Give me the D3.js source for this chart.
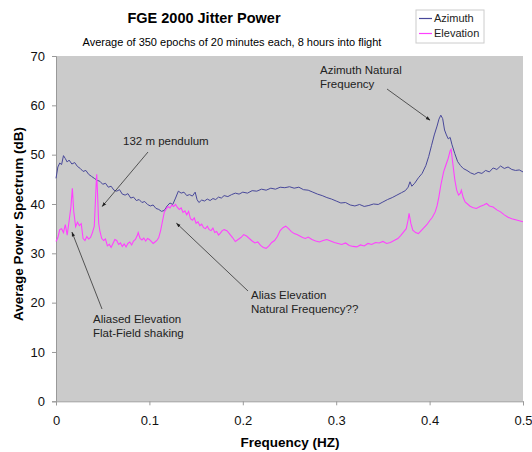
<!DOCTYPE html>
<html>
<head>
<meta charset="utf-8">
<script src="https://cdn.jsdelivr.net/npm/d3@7"></script>
<style>
  body { margin: 0; background: #fff; }
  svg text { font-family: "Liberation Sans", Arial, sans-serif; }
</style>
</head>
<body>
<div id="chart"></div>
<script>
// Azimuth spectrum (frequency in Hz, power in dB)
const azFreq = [0.000,0.002,0.004,0.006,0.008,0.010,0.012,0.014,0.017,0.020,0.023,0.026,0.029,0.032,0.035,0.038,0.041,0.044,0.047,0.050,
  0.053,0.056,0.059,0.062,0.065,0.068,0.071,0.074,0.077,0.080,0.083,0.086,0.089,0.092,0.095,0.098,0.101,0.104,0.107,0.110,
  0.113,0.116,0.119,0.122,0.125,0.128,0.131,0.134,0.137,0.140,0.143,0.146,0.149,0.151,0.153,0.156,0.159,0.162,0.165,0.168,
  0.171,0.174,0.177,0.180,0.184,0.188,0.192,0.196,0.200,0.205,0.210,0.215,0.220,0.225,0.230,0.235,0.240,0.245,0.250,0.255,
  0.260,0.265,0.270,0.275,0.280,0.285,0.290,0.295,0.300,0.305,0.310,0.315,0.320,0.325,0.330,0.335,0.340,0.345,0.350,0.355,
  0.360,0.365,0.370,0.374,0.377,0.379,0.381,0.384,0.388,0.392,0.396,0.399,0.402,0.405,0.408,0.410,0.412,0.414,0.416,0.418,
  0.420,0.422,0.424,0.427,0.430,0.433,0.436,0.440,0.444,0.448,0.452,0.456,0.460,0.464,0.468,0.472,0.476,0.480,0.484,0.488,
  0.492,0.496,0.500];
const azPower = [45.2,47.5,48.3,48.0,49.8,49.2,48.5,48.9,48.1,48.4,47.6,47.2,46.6,46.8,46.0,45.6,45.2,44.8,44.6,44.0,
  44.2,43.4,43.6,42.8,42.6,42.9,42.0,41.8,42.1,41.2,41.4,40.7,40.9,40.3,40.5,39.9,39.6,39.8,39.1,38.9,
  38.5,38.7,39.6,40.2,39.9,41.2,42.6,42.2,42.4,41.7,41.9,41.6,42.4,40.9,40.3,40.8,40.6,41.0,40.7,41.1,
  40.9,41.4,41.2,41.7,41.5,41.9,42.2,42.0,42.4,42.2,42.7,42.6,43.0,42.8,43.2,43.0,43.4,43.3,43.5,43.2,
  43.4,42.9,42.8,42.4,42.0,41.7,41.3,41.0,40.6,40.2,40.3,39.8,39.6,39.9,39.5,39.7,40.0,39.9,40.4,40.9,
  41.3,41.8,42.3,42.7,43.4,44.5,43.6,44.2,45.3,46.2,47.8,49.6,51.8,54.0,55.8,57.2,58.0,57.3,55.0,54.0,
  53.2,53.5,52.0,50.2,48.6,47.8,47.2,46.8,46.3,46.0,46.4,46.2,46.8,46.5,47.3,47.0,47.7,47.2,47.5,47.0,
  46.8,46.9,46.5];

// Elevation spectrum
const elFreq = [0.000,0.002,0.004,0.006,0.008,0.010,0.012,0.014,0.016,0.0175,0.019,0.021,0.023,0.025,0.027,0.029,0.031,0.033,0.035,0.037,
  0.039,0.041,0.043,0.0436,0.0445,0.0457,0.047,0.049,0.051,0.053,0.055,0.057,0.059,0.061,0.063,0.065,0.067,0.069,0.071,0.073,
  0.075,0.077,0.079,0.081,0.083,0.085,0.087,0.088,0.090,0.092,0.094,0.096,0.098,0.100,0.102,0.104,0.106,0.108,0.110,0.112,
  0.114,0.116,0.118,0.120,0.122,0.124,0.126,0.128,0.130,0.132,0.134,0.136,0.138,0.140,0.142,0.144,0.146,0.148,0.150,0.152,
  0.154,0.156,0.158,0.160,0.162,0.164,0.166,0.168,0.170,0.172,0.174,0.176,0.178,0.180,0.183,0.186,0.189,0.192,0.195,0.198,
  0.201,0.204,0.207,0.210,0.213,0.216,0.219,0.222,0.225,0.228,0.231,0.234,0.237,0.240,0.243,0.246,0.249,0.252,0.255,0.258,
  0.261,0.264,0.267,0.270,0.274,0.278,0.282,0.286,0.290,0.294,0.298,0.302,0.306,0.310,0.314,0.318,0.322,0.326,0.330,0.334,
  0.338,0.342,0.346,0.350,0.354,0.358,0.362,0.366,0.369,0.372,0.375,0.377,0.378,0.380,0.382,0.385,0.388,0.391,0.394,0.397,
  0.400,0.403,0.406,0.408,0.410,0.412,0.415,0.418,0.420,0.422,0.423,0.425,0.427,0.429,0.431,0.433,0.434,0.436,0.438,0.440,
  0.443,0.446,0.450,0.454,0.458,0.461,0.464,0.468,0.472,0.476,0.480,0.484,0.488,0.492,0.496,0.500];
const elPower = [32.4,33.2,34.8,35.0,34.2,35.8,33.7,36.5,39.5,43.2,38.5,35.4,36.3,35.6,36.0,33.0,32.6,33.4,32.9,33.2,
  34.2,35.5,44.0,46.0,42.0,36.1,34.5,33.0,32.6,32.9,31.5,31.8,31.2,32.0,32.8,32.6,31.8,32.1,31.4,31.9,
  31.3,32.0,32.3,31.7,32.5,32.8,33.6,34.2,33.0,32.7,33.1,32.5,33.0,32.8,32.4,32.0,32.3,32.6,33.2,34.6,
  36.5,38.4,39.0,39.5,39.2,39.8,39.5,39.9,39.3,38.9,39.2,38.3,38.6,37.8,38.5,37.0,36.7,37.2,36.1,36.4,
  35.6,35.9,35.2,35.0,35.5,34.8,34.6,35.1,34.2,34.4,33.7,34.1,34.6,34.8,34.6,33.9,33.2,32.4,32.8,33.2,
  33.8,33.5,33.0,32.5,32.1,32.3,31.6,31.2,31.0,31.5,32.2,32.6,33.4,34.6,35.2,35.5,35.0,34.4,34.0,33.8,
  33.5,33.2,33.0,33.3,32.8,32.5,32.3,32.6,32.8,32.5,32.2,32.0,31.8,32.1,31.6,31.4,31.3,31.7,31.5,32.0,
  31.8,32.2,32.1,32.4,32.0,32.2,32.6,33.0,33.6,34.3,35.0,36.8,38.1,36.0,34.7,34.2,34.0,34.6,35.2,35.8,
  36.6,37.3,38.4,39.6,41.5,43.8,46.5,48.2,49.3,50.8,51.1,48.0,44.9,42.8,41.8,42.2,42.8,41.3,40.4,40.1,
  39.6,39.3,39.1,39.5,39.8,40.1,39.6,39.4,38.8,38.4,37.8,37.3,37.0,36.8,36.6,36.4];

const xTicks = [0, 0.1, 0.2, 0.3, 0.4, 0.5];
const yTicks = [0, 10, 20, 30, 40, 50, 60, 70];

// annotations: text lines, label position, arrow from -> to (data coords for the tip)
const notes = [
  { lines: ["132 m pendulum"], tx: 123, ty: 145, from: [148, 152], tip: [0.0495, 39.5] },
  { lines: ["Azimuth Natural", "Frequency"], tx: 320, ty: 74, from: [387, 89], tip: [0.4005, 57.0] },
  { lines: ["Aliased Elevation", "Flat-Field shaking"], tx: 93, ty: 323, from: [102, 309], tip: [0.0171, 34.3] },
  { lines: ["Alias Elevation", "Natural Frequency??"], tx: 251, ty: 299, from: [248, 291], tip: [0.129, 36.1] }
];

const width = 532, height = 452;
const margin = { top: 56, right: 9, bottom: 51, left: 56 };

const svg = d3.select("#chart").append("svg")
  .attr("width", width).attr("height", height);

const x = d3.scaleLinear().domain([0, 0.5]).range([margin.left, width - margin.right]);
const y = d3.scaleLinear().domain([0, 70]).range([height - margin.bottom + 0.3, margin.top]);

// plot area
svg.append("rect")
  .attr("x", x(0)).attr("y", y(70))
  .attr("width", x(0.5) - x(0)).attr("height", y(0) - y(70))
  .attr("fill", "#cbcbcb");

// axes
const xAxis = svg.append("g")
  .attr("transform", `translate(0,${y(0)})`)
  .call(d3.axisBottom(x).tickValues(xTicks).tickSize(4).tickPadding(10)
    .tickFormat(d => d === 0 ? "0" : d3.format(".1f")(d)));
const yAxis = svg.append("g")
  .attr("transform", `translate(${x(0)},0)`)
  .call(d3.axisLeft(y).tickValues(yTicks).tickSize(4).tickPadding(7));
[xAxis, yAxis].forEach(g => {
  g.select(".domain").attr("stroke", "#999");
  g.selectAll(".tick line").attr("stroke", "#999");
  g.selectAll(".tick text").attr("font-size", 13).attr("fill", "#111")
    .style("font-family", "Liberation Sans, Arial, sans-serif");
});

// series
const line = d3.line().x(d => x(d[0])).y(d => y(d[1]));
svg.append("path")
  .datum(azFreq.map((f, i) => [f, azPower[i]]))
  .attr("d", line).attr("fill", "none")
  .attr("stroke", "#48489a").attr("stroke-width", 1);
svg.append("path")
  .datum(elFreq.map((f, i) => [f, elPower[i]]))
  .attr("d", line).attr("fill", "none")
  .attr("stroke", "#ff40ff").attr("stroke-width", 1.1);

// arrows
svg.append("defs").append("marker")
  .attr("id", "arr").attr("viewBox", "0 0 10 10")
  .attr("refX", 9).attr("refY", 5)
  .attr("markerWidth", 6).attr("markerHeight", 6)
  .attr("orient", "auto")
  .append("path").attr("d", "M0,1.5 L10,5 L0,8.5 Z").attr("fill", "#222");

notes.forEach(n => {
  svg.append("line")
    .attr("x1", n.from[0]).attr("y1", n.from[1])
    .attr("x2", x(n.tip[0])).attr("y2", y(n.tip[1]))
    .attr("stroke", "#333").attr("stroke-width", 0.8)
    .attr("marker-end", "url(#arr)");
  const t = svg.append("text").attr("x", n.tx).attr("y", n.ty)
    .attr("font-size", 11.5).attr("fill", "#222");
  n.lines.forEach((s, i) => t.append("tspan").attr("x", n.tx).attr("dy", i ? 14 : 0).text(s));
});

// titles
svg.append("text").attr("x", 204).attr("y", 23)
  .attr("text-anchor", "middle").attr("font-size", 14.5).attr("font-weight", "bold")
  .text("FGE 2000 Jitter Power");
svg.append("text").attr("x", 232).attr("y", 46)
  .attr("text-anchor", "middle").attr("font-size", 11)
  .text("Average of 350 epochs of 20 minutes each, 8 hours into flight");
svg.append("text").attr("x", 290).attr("y", 447)
  .attr("text-anchor", "middle").attr("font-size", 13.5).attr("font-weight", "bold")
  .text("Frequency (HZ)");
svg.append("text")
  .attr("transform", "translate(23,224) rotate(-90)")
  .attr("text-anchor", "middle").attr("font-size", 13.5).attr("font-weight", "bold")
  .text("Average Power Spectrum (dB)");

// legend
const leg = svg.append("g");
leg.append("rect").attr("x", 416).attr("y", 10).attr("width", 68).attr("height", 33)
  .attr("fill", "#fff").attr("stroke", "#ccc");
[["Azimuth", "#48489a", 22], ["Elevation", "#ff40ff", 37]].forEach(([name, col, ly]) => {
  leg.append("line").attr("x1", 419).attr("x2", 432).attr("y1", ly - 3.5).attr("y2", ly - 3.5)
    .attr("stroke", col).attr("stroke-width", 1.2);
  leg.append("text").attr("x", 434).attr("y", ly).attr("font-size", 11).attr("fill", "#222").text(name);
});
</script>
</body>
</html>
